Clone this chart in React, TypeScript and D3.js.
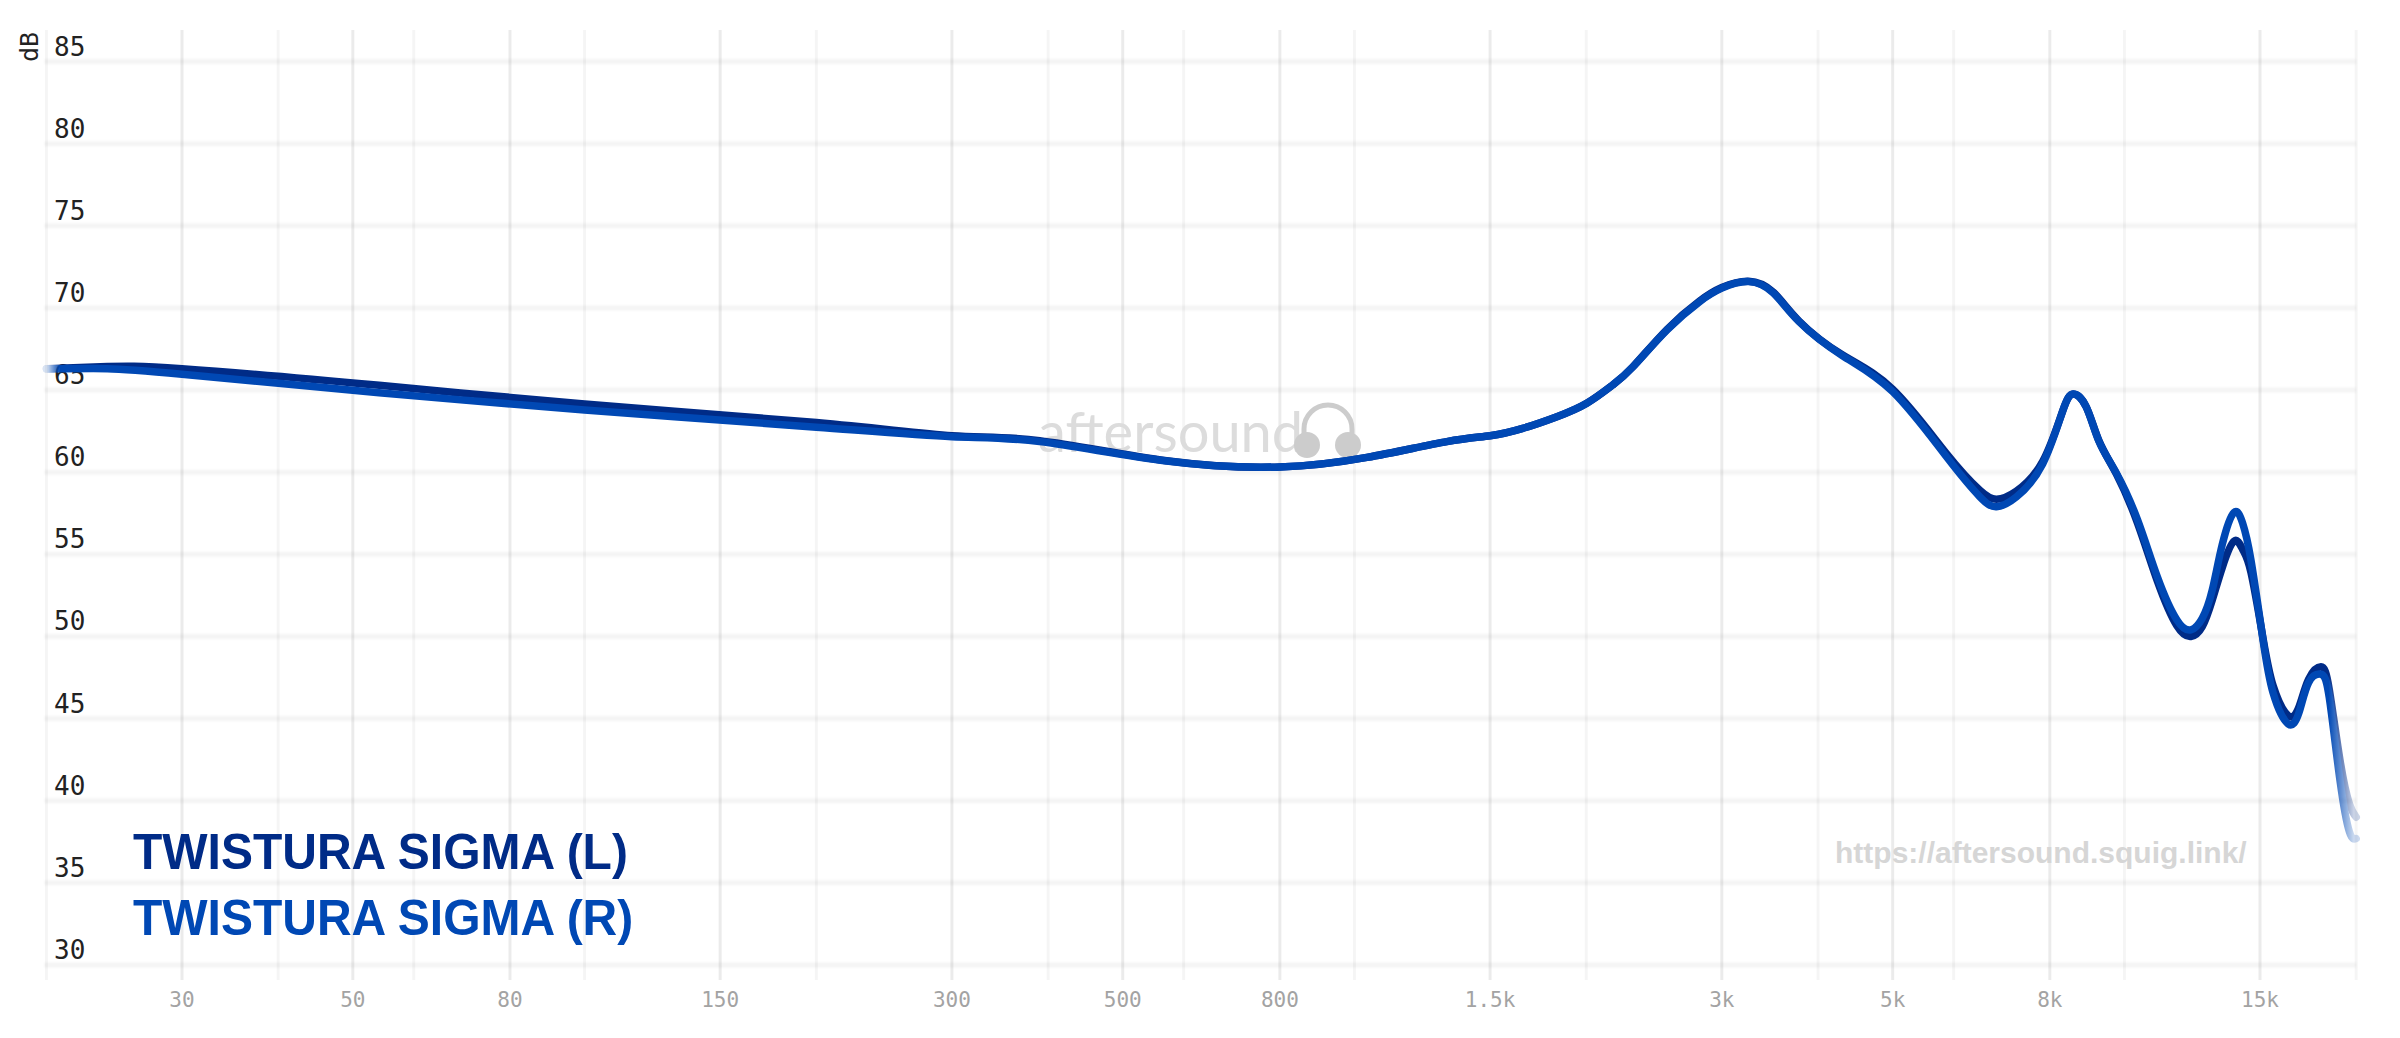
import React from "react";
import * as d3 from "d3";

const WIDTH = 2400;
const HEIGHT = 1038;

const freqs = [20, 24, 30, 54.1, 100, 200, 300, 390, 570, 800, 1038, 1318, 1500, 1654, 1832, 2003, 2163, 2298, 2547, 2807, 3000, 3250, 3500, 3779, 4300, 5000, 5870, 6490, 6820, 7240, 7830, 8310, 8580, 8920, 9270, 9760, 10400, 11040, 11700, 12200, 12620, 13000, 13400, 13880, 14240, 14600, 15135, 15600, 16300, 16850, 17350, 18000, 18450, 19050, 19600, 20000];
const leftDb = [66.3, 66.43, 66.3, 65.29, 64.15, 63.02, 62.22, 61.92, 60.7, 60.32, 60.9, 61.86, 62.22, 62.67, 63.38, 64.2, 65.3, 66.4, 68.7, 70.42, 71.24, 71.62, 70.95, 69.2, 67.15, 65.05, 61.15, 58.9, 58.35, 58.85, 60.65, 63.7, 64.76, 63.98, 61.9, 59.9, 56.9, 53.35, 50.65, 50.0, 50.6, 52.2, 54.2, 55.8, 55.3, 53.9, 49.9, 47, 45.2, 45.7, 47.4, 48.15, 46.8, 42.5, 39.8, 39];
const rightDb = [66.28, 66.3, 65.96, 64.84, 63.79, 62.74, 62.16, 61.86, 60.68, 60.32, 60.9, 61.86, 62.22, 62.67, 63.38, 64.2, 65.3, 66.4, 68.66, 70.38, 71.2, 71.6, 70.9, 69.16, 67.1, 64.9, 60.95, 58.5, 57.9, 58.5, 60.5, 63.7, 64.76, 63.98, 61.86, 59.95, 57.1, 53.6, 51.0, 50.4, 51.1, 52.8, 55.6, 57.55, 56.9, 54.65, 49.8, 46.56, 44.7, 45.35, 47.2, 47.7, 46.3, 41.27, 38.1, 37.7];

const dbTicks = [85, 80, 75, 70, 65, 60, 55, 50, 45, 40, 35, 30];
const majorFreqs = [30, 50, 80, 150, 300, 500, 800, 1500, 3000, 5000, 8000, 15000];
const majorLabels = ["30", "50", "80", "150", "300", "500", "800", "1.5k", "3k", "5k", "8k", "15k"];
const minorFreqs = [20, 40, 60, 100, 200, 400, 600, 1000, 2000, 4000, 6000, 10000, 20000];

const seriesNames = ["TWISTURA SIGMA (L)", "TWISTURA SIGMA (R)"];
const seriesColors = ["#002b87", "#0048b4"];

const x = d3.scaleLog().domain([30, 15000]).range([182, 2260]);
const y = d3.scaleLinear().domain([85, 30]).range([61.5, 965]);

const line = (vals: number[]) =>
  d3
    .line<number>()
    .x((_, i) => x(freqs[i]))
    .y((d) => y(d))
    .curve(d3.curveNatural)(vals) as string;

const MONO = "'DejaVu Sans Mono', monospace";
const SANS = "'Liberation Sans', Arial, sans-serif";

export default function App() {
  const x0 = x(20);
  const x1 = x(20000);
  return (
    <svg
      width={WIDTH}
      height={HEIGHT}
      viewBox={`0 0 ${WIDTH} ${HEIGHT}`}
      style={{ position: "absolute", left: 0, top: 0, background: "#fff" }}
    >
      <defs>
        <filter id="softH" x="-1%" y="-1%" width="102%" height="102%">
          <feGaussianBlur stdDeviation="1.2" />
        </filter>
        <filter id="softV" x="-1%" y="-1%" width="102%" height="102%">
          <feGaussianBlur stdDeviation="0.7" />
        </filter>
        <linearGradient id="fade" gradientUnits="userSpaceOnUse" x1={x0} x2={x1} y1="0" y2="0">
          <stop offset="0" stopColor="#fff" stopOpacity="0.15" />
          <stop offset="0.006" stopColor="#fff" stopOpacity="1" />
          <stop offset="0.988" stopColor="#fff" stopOpacity="1" />
          <stop offset="0.999" stopColor="#fff" stopOpacity="0.2" />
        </linearGradient>
        <mask id="fadeMask" maskUnits="userSpaceOnUse" x="0" y="0" width={WIDTH} height={HEIGHT}>
          <rect x="0" y="0" width={WIDTH} height={HEIGHT} fill="url(#fade)" />
        </mask>
      </defs>

      <g filter="url(#softH)">
        {dbTicks.map((d) => (
          <line key={d} x1={x0 - 2} x2={x1} y1={y(d)} y2={y(d)} stroke="#000" strokeOpacity={0.045} strokeWidth={5} />
        ))}
      </g>
      <g filter="url(#softV)">
        {minorFreqs.map((f) => (
          <line key={f} x1={x(f)} x2={x(f)} y1={30} y2={980} stroke="#000" strokeOpacity={0.04} strokeWidth={3} />
        ))}
        {majorFreqs.map((f) => (
          <line key={f} x1={x(f)} x2={x(f)} y1={30} y2={980} stroke="#000" strokeOpacity={0.08} strokeWidth={3} />
        ))}
      </g>

      <g>
        <text x={1038} y={452} fontFamily="Lato, sans-serif" fontWeight={400} fontSize={56} fill="#dcdcdc">
          aftersound
        </text>
        <circle cx={1307} cy={445} r={13} fill="#ccc" />
        <circle cx={1348} cy={445} r={13} fill="#ccc" />
        <path d="M1304 440 V429 A24 24 0 0 1 1352 429 V440" fill="none" stroke="#ccc" strokeWidth={5} />
      </g>

      <g fontFamily={MONO} fontSize={26} fill="#222">
        {dbTicks.map((d) => (
          <text key={d} x={54} y={y(d) - 6}>
            {d}
          </text>
        ))}
      </g>
      <text
        transform="translate(38,47) rotate(-90)"
        textAnchor="middle"
        fontFamily={MONO}
        fontSize={25}
        fill="#222"
      >
        dB
      </text>

      <g fontFamily={MONO} fontSize={21} fill="#a3a3a3" textAnchor="middle">
        {majorFreqs.map((f, i) => (
          <text key={f} x={x(f)} y={1007}>
            {majorLabels[i]}
          </text>
        ))}
      </g>

      <g mask="url(#fadeMask)" fill="none" strokeWidth={7.5} strokeLinecap="round" strokeLinejoin="round">
        <path d={line(leftDb)} stroke={seriesColors[0]} />
        <path d={line(rightDb)} stroke={seriesColors[1]} />
      </g>

      <g fontFamily={SANS} fontWeight={700} fontSize={50}>
        {seriesNames.map((n, i) => (
          <text key={n} transform={`translate(133,${869 + i * 66}) scale(0.96,1)`} fill={seriesColors[i]}>
            {n}
          </text>
        ))}
      </g>

      <text x={1835} y={863} fontFamily={SANS} fontWeight={700} fontSize={30} fill="#d6d6d6">
        https://aftersound.squig.link/
      </text>
    </svg>
  );
}
